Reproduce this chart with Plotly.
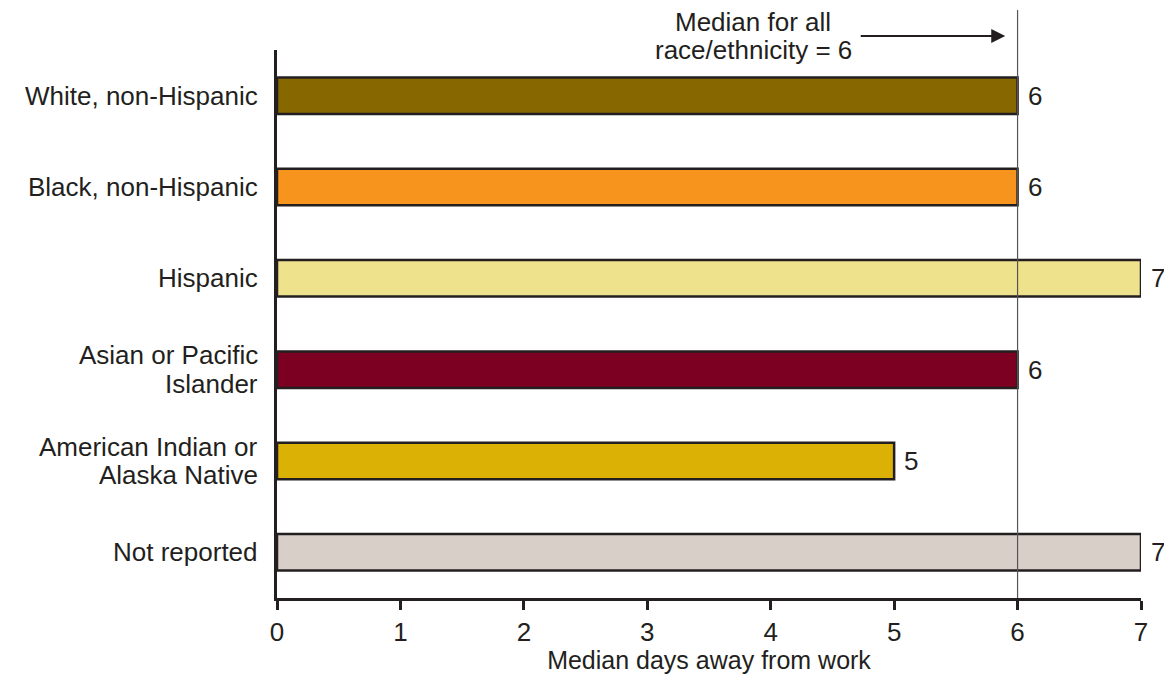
import plotly.graph_objects as go

categories = ["White, non-Hispanic", "Black, non-Hispanic", "Hispanic",
              "Asian or Pacific<br>Islander", "American Indian or<br>Alaska Native",
              "Not reported"]
values = [6, 6, 7, 6, 5, 7]
colors = ["#866700", "#F7941D", "#EFE28C", "#7B0022", "#DBB105", "#D8CFC9"]
x_ticks = [0, 1, 2, 3, 4, 5, 6, 7]
overall_median = 6
note_lines = ["Median for all", "race/ethnicity = 6"]
x_title = "Median days away from work"

FONT = "Liberation Sans, Arial, Helvetica, sans-serif"
INK = "#231F20"
FS = 26
LINE_GAP = 28.5

fig = go.Figure()
fig.add_trace(go.Bar(
    y=categories, x=values, orientation="h",
    marker=dict(color=colors, line=dict(color=INK, width=2.5)),
    width=0.4, showlegend=False, hoverinfo="x+y",
))

# category labels (one annotation per text line for tight leading)
for c in categories:
    lines = c.split("<br>")
    n = len(lines)
    for i, ln in enumerate(lines):
        fig.add_annotation(xref="paper", yref="y", x=0, y=c, text=ln,
                           showarrow=False, xanchor="right", yanchor="middle",
                           xshift=-17, yshift=((n - 1) / 2 - i) * LINE_GAP,
                           font=dict(family=FONT, size=FS, color=INK))

# value labels
for c, v in zip(categories, values):
    fig.add_annotation(xref="x", yref="y", x=v, y=c, text=str(v),
                       showarrow=False, xanchor="left", yanchor="middle",
                       xshift=8, font=dict(family=FONT, size=FS, color=INK))

fig.add_shape(type="line", xref="x", yref="paper",
              x0=overall_median, x1=overall_median, y0=0, y1=1.073,
              line=dict(color="#555555", width=1.2), layer="above")

for i, ln in enumerate(note_lines):
    fig.add_annotation(xref="x", yref="paper", x=3.86, y=1.0255, text=ln,
                       showarrow=False, xanchor="center", yanchor="middle",
                       yshift=((len(note_lines) - 1) / 2 - i) * 28,
                       font=dict(family=FONT, size=FS, color=INK))
fig.add_annotation(xref="x", yref="paper", x=5.90, y=1.0255,
                   text="", showarrow=True, arrowhead=2, arrowsize=1.4,
                   arrowwidth=2, arrowcolor=INK,
                   axref="pixel", ayref="pixel", ax=-146, ay=0)

fig.update_layout(
    width=1156, height=666,
    margin=dict(l=269, r=23, t=42, b=76, autoexpand=False),
    plot_bgcolor="white", paper_bgcolor="white",
    font=dict(family=FONT, size=FS, color=INK),
)
fig.update_xaxes(range=[0, 7], tickvals=x_ticks, ticktext=[str(t) for t in x_ticks],
                 showgrid=False, zeroline=False,
                 showline=True, linecolor=INK, linewidth=2.5,
                 ticks="outside", ticklen=9, tickwidth=2.5, tickcolor=INK,
                 tickfont=dict(family=FONT, size=FS, color=INK),
                 title=dict(text=x_title, font=dict(family=FONT, size=25, color=INK), standoff=15))
fig.update_yaxes(autorange="reversed", showgrid=False, zeroline=False,
                 showline=True, linecolor=INK, linewidth=2.5, ticks="",
                 showticklabels=False)

fig.write_html("out.html")
